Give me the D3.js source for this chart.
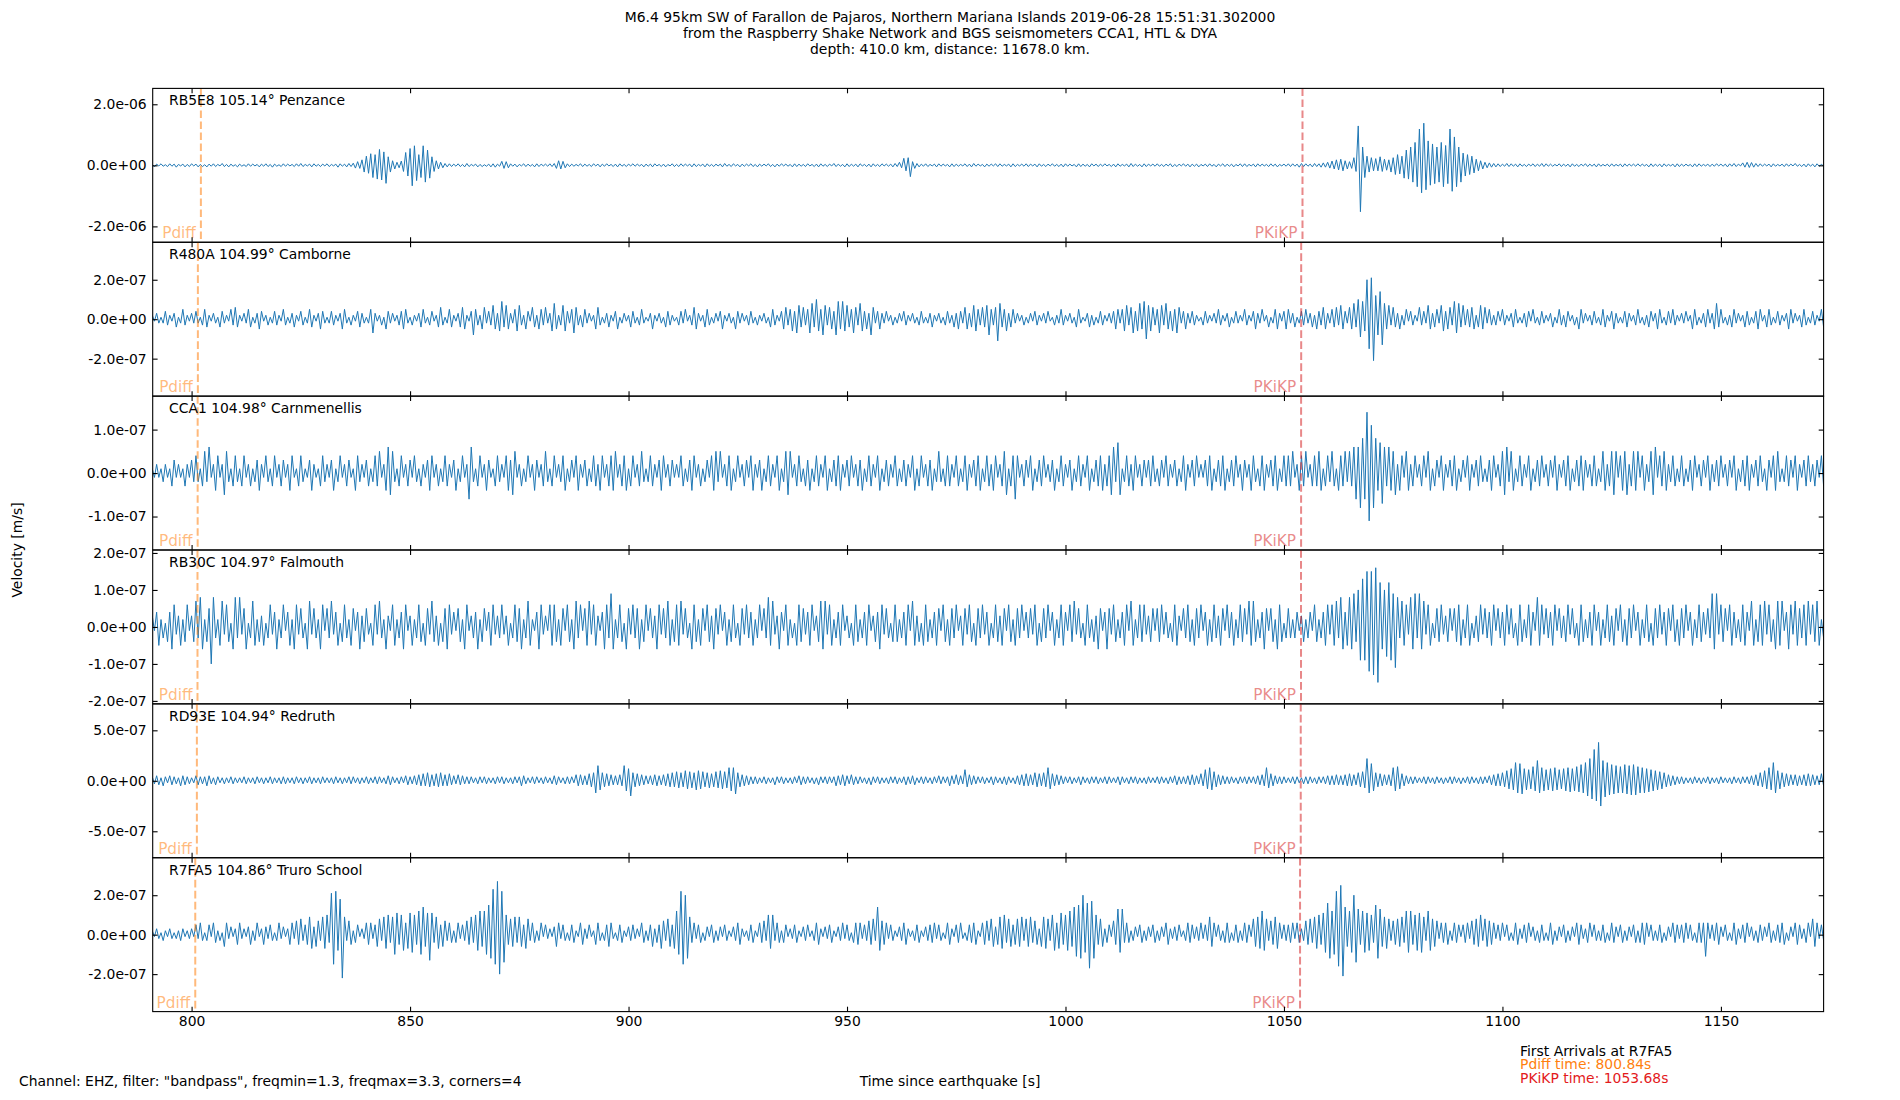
<!DOCTYPE html>
<html>
<head>
<meta charset="utf-8">
<title>Seismograms</title>
<script src="https://d3js.org/d3.v7.min.js"></script>
<style>
  body { margin: 0; background: #fff; }
  svg { font-family: "DejaVu Sans", sans-serif; }
</style>
</head>
<body>
<div id="chart-area"></div>
<script>
// station labels, from top panel to bottom
var stations = ["RB5E8 105.14° Penzance", "R480A 104.99° Camborne", "CCA1 104.98° Carnmenellis",
                "RB30C 104.97° Falmouth", "RD93E 104.94° Redruth", "R7FA5 104.86° Truro School"];

// predicted arrivals per station [s]
var pdiffTimes = [802.13, 801.44, 801.39, 801.35, 801.21, 800.84];
var pkikpTimes = [1054.24, 1053.94, 1053.92, 1053.90, 1053.84, 1053.68];

// y limits and tick values per panel [m/s]
var yLimits = [2.52e-6, 3.9e-7, 1.77e-7, 2.08e-7, 7.62e-7, 3.9e-7];
var yTicks = [
  [-2e-6, 0, 2e-6],
  [-2e-7, 0, 2e-7],
  [-1e-7, 0, 1e-7],
  [-2e-7, -1e-7, 0, 1e-7, 2e-7],
  [-5e-7, 0, 5e-7],
  [-2e-7, 0, 2e-7]
];
var xTicks = [800, 850, 900, 950, 1000, 1050, 1100, 1150];

// traces: one value every half second from t0, in units of 1e-8 m/s
// (amplitudes, one row = 10 s)
var t0 = 791;
var step = 0.5;
var unit = 1e-8;

var rb5e8 = [
3,-5,4,-2,5,-3,2,-4,5,-3,4,-6,3,-2,4,-5,3,-4,5,-2,
4,-5,3,-4,2,-5,4,-3,5,-4,3,-2,6,-4,3,-5,4,-3,2,-5,
4,-3,2,-4,5,-3,4,-2,3,-5,4,-3,5,-4,3,-6,4,-3,2,-4,
5,-3,4,-2,3,-4,5,-3,6,-4,3,-2,4,-5,5,-3,3,-4,4,-2,
5,-4,3,-2,4,-6,5,-3,4,-5,6,-4,7,-9,12,-10,18,-22,30,-26,
38,-40,35,-45,52,-48,44,-59,28,-22,15,-12,10,-8,14,-20,42,-35,55,-67,
64,-50,35,-40,64,-55,50,-42,28,-20,15,-12,10,-8,6,-5,5,-4,4,-3,
5,-4,3,-5,6,-4,3,-2,4,-5,3,-4,2,-3,4,-5,5,-6,4,-3,
13,-10,12,-8,5,-3,4,-5,3,-2,5,-4,4,-3,3,-5,5,-4,4,-2,
4,-3,5,-4,6,-10,15,-12,13,-8,5,-4,4,-3,3,-2,5,-4,4,-3,
3,-4,5,-2,4,-5,4,-3,5,-2,3,-4,4,-5,5,-3,3,-4,4,-2,
5,-3,4,-2,3,-5,4,-3,4,-5,5,-2,3,-4,4,-5,3,-2,5,-4,
3,-4,5,-3,4,-2,4,-5,5,-4,3,-2,4,-5,5,-3,3,-4,4,-2,
4,-5,6,-3,3,-4,5,-2,3,-5,4,-3,4,-2,5,-4,3,-5,4,-3,
4,-2,5,-4,3,-5,4,-3,5,-2,4,-3,3,-5,5,-4,4,-3,3,-4,
5,-2,3,-4,4,-5,5,-3,3,-4,4,-2,6,-4,4,-3,3,-5,5,-4,
4,-3,4,-5,5,-2,3,-4,4,-5,5,-3,3,-4,5,-2,4,-3,4,-5,
6,-4,10,-8,23,-18,25,-37,12,-10,6,-5,4,-3,5,-4,3,-2,4,-5,
5,-3,4,-2,3,-5,5,-4,4,-3,3,-2,5,-4,4,-5,6,-3,4,-2,
3,-5,4,-3,4,-2,5,-4,5,-3,3,-2,4,-5,5,-4,3,-2,4,-3,
5,-4,4,-2,4,-5,5,-3,3,-4,4,-2,5,-3,3,-4,4,-5,5,-3,
4,-2,3,-5,5,-4,4,-3,3,-5,5,-2,4,-4,4,-3,5,-2,3,-4,
4,-5,5,-3,3,-2,4,-5,6,-4,4,-3,3,-5,5,-4,4,-2,4,-3,
5,-3,3,-4,4,-2,5,-5,3,-4,4,-2,5,-3,4,-5,4,-3,4,-5,
3,-2,4,-4,5,-3,3,-5,4,-2,5,-4,4,-3,4,-5,3,-2,5,-4,
5,-4,3,-2,4,-5,5,-3,4,-2,3,-4,5,-3,4,-5,3,-2,4,-3,
5,-4,5,-3,4,-6,6,-4,5,-3,4,-5,6,-4,5,-6,8,-6,10,-9,
14,-12,18,-15,20,-18,15,-12,12,-10,25,-20,129,-152,60,-40,30,-22,25,-18,
22,-18,28,-20,20,-16,18,-22,25,-30,35,-28,30,-42,50,-45,60,-55,75,-70,
119,-90,138,-80,80,-65,70,-60,60,-55,75,-70,65,-60,119,-85,93,-70,60,-55,
40,-35,35,-30,30,-25,20,-18,15,-12,10,-8,8,-6,6,-5,5,-4,4,-3,
6,-4,5,-3,4,-5,5,-3,3,-4,4,-2,5,-4,4,-3,6,-4,5,-3,
4,-3,3,-2,5,-4,4,-3,4,-5,5,-3,3,-4,4,-2,5,-4,4,-3,
4,-5,5,-3,3,-2,4,-4,5,-3,3,-2,4,-5,5,-3,4,-2,4,-3,
5,-3,4,-2,3,-5,5,-4,4,-3,4,-5,5,-3,3,-2,4,-5,5,-4,
4,-3,4,-2,3,-5,5,-4,5,-3,3,-2,4,-4,4,-3,5,-2,4,-3,
4,-5,5,-3,6,-4,4,-2,8,-6,10,-7,9,-6,6,-4,5,-3,4,-2,
4,-5,5,-3,3,-2,4,-4,5,-3,4,-2,6,-3,3,-4,4,-5,5,-3,
4,-5,5,-3,3,-2];

var r480a = [
2,-1,3,-2,1,-2,4,-3,2,-1,3,-4,1,-2,5,-3,2,-1,3,-2,
4,-2,1,-3,5,-4,2,-1,3,-2,1,-4,4,-2,2,-1,5,-3,6,-4,
2,-1,3,-2,5,-4,1,-2,3,-5,4,-1,2,-3,1,-2,4,-3,2,-1,
5,-3,1,-2,3,-4,2,-1,4,-3,1,-2,5,-4,2,-1,3,-5,4,-2,
1,-2,4,-3,2,-1,3,-5,5,-2,1,-3,2,-1,4,-4,3,-2,1,-2,
5,-7,3,-1,2,-3,1,-5,4,-2,3,-1,2,-3,4,-5,5,-2,1,-3,
2,-1,3,-4,5,-2,1,-3,4,-1,2,-4,6,-3,1,-2,5,-4,2,-1,
3,-4,6,-5,2,-1,4,-8,5,-3,2,-5,6,-2,4,-3,7,-5,3,-6,
9,-4,7,-5,3,-2,5,-6,7,-3,2,-5,4,-1,6,-4,2,-5,5,-3,
6,-2,3,-6,8,-5,2,-3,7,-6,4,-2,5,-7,6,-3,2,-4,5,-2,
3,-1,2,-5,6,-3,1,-2,3,-4,2,-1,4,-5,1,-2,3,-1,2,-4,
4,-2,1,-3,5,-2,1,-1,3,-5,2,-1,3,-2,1,-4,4,-3,2,-1,
1,-3,4,-2,5,-1,2,-3,6,-5,3,-1,2,-4,5,-3,1,-2,3,-1,
4,-5,2,-1,3,-2,1,-5,4,-2,3,-1,2,-3,4,-2,1,-3,2,-1,
3,-2,1,-4,5,-3,2,-1,4,-5,6,-3,5,-6,4,-7,7,-4,6,-3,
5,-7,8,-4,10,-6,5,-8,7,-3,6,-5,4,-8,9,-5,9,-6,7,-4,
5,-7,6,-3,8,-6,4,-5,3,-8,6,-2,4,-5,3,-2,4,-1,2,-3,
1,-2,3,-1,4,-3,2,-1,3,-2,1,-3,4,-2,1,-2,3,-4,2,-1,
3,-2,1,-3,4,-2,2,-4,3,-5,4,-2,6,-5,3,-4,7,-6,5,-3,
6,-4,7,-8,5,-3,6,-11,8,-4,5,-6,3,-4,5,-2,3,-1,2,-3,
1,-2,3,-1,4,-3,2,-1,3,-2,4,-1,1,-3,2,-2,5,-3,2,-1,
3,-2,1,-4,5,-2,1,-1,3,-4,2,-3,1,-2,4,-3,2,-1,3,-2,
4,-5,5,-2,5,-6,7,-3,6,-7,4,-6,8,-5,9,-10,7,-6,6,-3,
5,-7,7,-3,8,-5,4,-6,5,-7,6,-2,4,-5,3,-2,4,-3,2,-1,
1,-3,4,-2,2,-1,3,-2,5,-3,2,-1,3,-4,1,-2,4,-2,2,-1,
5,-3,2,-1,4,-5,3,-2,5,-1,2,-4,1,-2,5,-5,3,-1,4,-5,
5,-2,3,-4,1,-2,4,-3,5,-2,3,-4,2,-5,4,-3,6,-5,3,-2,
5,-4,6,-3,7,-5,4,-2,6,-5,8,-4,10,-9,9,-6,20,-15,21,-21,
12,-8,14,-13,8,-5,7,-3,6,-4,3,-5,2,-3,5,-1,4,-3,2,-1,
6,-3,4,-2,7,-5,3,-4,5,-2,7,-6,4,-5,6,-3,9,-7,8,-4,
7,-3,5,-4,6,-5,2,-4,7,-5,6,-2,5,-3,2,-3,4,-1,5,-3,
2,-1,3,-4,5,-2,1,-2,3,-4,4,-1,5,-2,1,-3,4,-2,2,-1,
3,-4,1,-2,5,-3,2,-4,4,-1,2,-3,1,-5,5,-2,3,-1,2,-3,
4,-2,1,-3,5,-4,2,-1,4,-5,3,-2,1,-2,4,-4,3,-1,2,-3,
5,-2,1,-3,2,-4,4,-1,3,-5,5,-2,1,-3,4,-2,5,-3,2,-1,
3,-2,4,-1,2,-5,5,-3,1,-2,3,-4,5,-2,3,-5,8,-4,5,-2,
1,-3,2,-4,5,-2,3,-1,2,-4,4,-3,1,-2,4,-5,5,-1,2,-4,
5,-3,1,-2,4,-3,2,-1,3,-5,5,-2,3,-1,2,-4,5,-3,1,-2,
4,-3,2,-1,5,-4];

var cca1 = [
1,-1,2,-1,1,-2,2,-1,1,-3,3,-1,2,-1,1,-3,2,-1,3,-2,
4,-2,1,-3,5,-2,6,-1,2,-4,4,-1,2,-5,5,-2,1,-3,4,-2,
1,-3,4,-1,2,-3,1,-2,3,-4,2,-1,4,-2,1,-3,4,-1,2,-3,
3,-1,2,-4,4,-1,1,-3,4,-2,1,-1,3,-4,2,-1,1,-3,4,-2,
2,-1,3,-4,1,-2,4,-1,2,-3,3,-1,1,-4,4,-2,2,-1,3,-3,
1,-2,4,-3,5,-1,2,-4,6,-5,5,-2,1,-3,4,-1,2,-3,3,-1,
4,-2,1,-3,2,-1,3,-4,4,-1,2,-3,1,-2,4,-3,2,-1,3,-4,
1,-2,4,-1,2,-6,6,-2,1,-3,4,-1,2,-4,3,-1,1,-3,4,-2,
2,-1,4,-4,3,-5,5,-1,2,-3,1,-2,4,-1,2,-4,3,-1,2,-3,
5,-2,1,-3,4,-1,2,-2,4,-4,1,-2,3,-1,4,-4,2,-1,3,-3,
1,-2,4,-3,2,-4,4,-1,2,-3,4,-4,5,-1,2,-3,4,-4,1,-3,
4,-1,2,-3,5,-2,1,-2,4,-3,2,-1,3,-4,4,-1,2,-3,3,-1,
2,-1,4,-3,1,-2,3,-4,4,-1,2,-3,1,-2,3,-1,4,-4,5,-2,
5,-1,2,-3,4,-4,1,-2,4,-1,2,-3,3,-1,4,-4,2,-1,3,-4,
1,-2,4,-3,2,-1,4,-4,1,-2,5,-5,5,-1,2,-3,4,-2,1,-3,
3,-4,1,-2,4,-3,2,-1,4,-4,1,-2,3,-3,4,-4,2,-1,3,-3,
4,-1,2,-3,3,-4,1,-2,4,-3,2,-1,4,-4,1,-2,3,-3,2,-1,
4,-3,1,-2,3,-3,2,-1,4,-4,1,-3,4,-1,2,-3,3,-4,1,-2,
5,-2,1,-3,4,-3,2,-1,4,-3,1,-2,4,-4,2,-1,3,-3,4,-4,
1,-2,4,-3,2,-4,4,-1,2,-3,5,-5,1,-3,4,-6,4,-1,2,-3,
3,-1,4,-4,1,-2,3,-3,4,-1,2,-2,3,-4,1,-2,4,-3,2,-1,
3,-4,1,-2,4,-3,2,-1,4,-4,1,-2,3,-3,4,-4,2,-3,4,-5,
6,-2,7,-5,1,-2,4,-3,2,-4,4,-1,2,-3,3,-1,3,-3,4,-2,
1,-3,3,-1,4,-3,2,-1,3,-3,1,-2,4,-4,2,-1,3,-3,4,-1,
2,-1,3,-3,4,-4,1,-2,3,-3,4,-4,1,-2,3,-3,4,-1,2,-4,
3,-1,2,-4,4,-2,1,-3,4,-4,2,-1,3,-3,4,-4,1,-2,4,-3,
4,-3,5,-1,2,-4,4,-3,5,-1,2,-3,4,-3,5,-4,1,-3,4,-2,
5,-3,1,-4,4,-3,5,-2,5,-3,6,-6,6,-8,8,-6,14,-11,11,-8,
8,-4,7,-7,6,-3,6,-4,5,-5,2,-4,4,-1,5,-4,2,-3,4,-1,
2,-3,4,-1,5,-4,1,-3,3,-1,4,-4,2,-1,3,-3,4,-4,1,-2,
3,-1,4,-4,2,-1,3,-3,4,-2,1,-2,3,-4,4,-1,2,-3,5,-5,
6,-2,5,-4,1,-2,4,-3,2,-1,4,-4,1,-2,3,-3,4,-1,2,-3,
3,-1,4,-4,2,-1,3,-3,4,-4,1,-2,3,-3,4,-4,3,-1,2,-3,
4,-3,1,-2,5,-4,2,-3,5,-5,5,-1,4,-4,5,-5,2,-3,5,-4,
5,-1,4,-4,2,-2,5,-5,6,-1,4,-3,5,-4,2,-2,4,-3,1,-2,
4,-3,1,-2,3,-4,4,-1,2,-3,3,-1,4,-4,2,-2,3,-3,4,-1,
2,-3,3,-1,4,-4,1,-2,3,-3,4,-4,2,-1,3,-3,4,-2,1,-4,
3,-1,4,-4,5,-2,1,-2,4,-3,3,-1,4,-4,2,-1,3,-3,4,-2,
2,-3,3,-1,4,-3];

var rb30c = [
3,-1,4,-5,2,-3,1,-4,4,-6,6,-2,3,-5,2,-4,6,-1,3,-4,
7,-3,8,-6,2,-4,5,-10,8,-3,2,-5,7,-2,6,-4,1,-6,8,-3,
8,-2,5,-6,1,-3,7,-5,2,-4,3,-5,1,-3,6,-2,4,-6,2,-3,
6,-1,4,-5,2,-6,6,-2,5,-3,1,-6,7,-2,5,-3,2,-6,6,-1,
5,-3,7,-2,4,-5,1,-4,6,-3,2,-5,5,-1,4,-6,3,-4,5,-2,
1,-5,6,-2,7,-3,2,-6,3,-1,6,-5,2,-3,4,-6,6,-1,3,-5,
2,-3,6,-4,1,-5,5,-2,7,-4,3,-5,1,-4,5,-6,6,-2,4,-1,
5,-4,2,-6,6,-1,3,-3,4,-6,2,-4,5,-1,4,-5,6,-2,3,-3,
6,-2,3,-5,1,-3,6,-4,5,-6,2,-3,7,-5,2,-1,4,-6,6,-2,
3,-1,6,-5,6,-4,2,-5,5,-1,6,-4,2,-6,7,-3,6,-1,5,-5,
7,-2,6,-5,3,-1,4,-6,6,-3,9,-6,2,-3,6,-4,1,-6,5,-2,
6,-3,5,-6,2,-4,6,-1,5,-3,3,-6,6,-2,5,-3,7,-5,2,-4,
6,-5,7,-2,5,-3,1,-6,6,-4,2,-5,5,-1,6,-4,3,-6,5,-2,
6,-1,4,-5,2,-4,6,-3,1,-5,5,-2,6,-3,4,-5,2,-3,6,-1,
5,-3,8,-5,7,-2,3,-6,4,-1,6,-5,2,-3,1,-5,6,-4,5,-2,
4,-5,6,-1,3,-4,7,-6,7,-2,6,-5,2,-3,4,-5,6,-1,3,-3,
1,-5,6,-4,2,-3,4,-5,6,-1,3,-4,4,-6,6,-2,5,-3,1,-4,
6,-4,2,-3,4,-5,6,-1,7,-5,3,-4,1,-5,6,-4,2,-3,4,-5,
5,-1,6,-4,2,-5,5,-3,6,-1,3,-5,5,-2,6,-4,1,-5,5,-3,
6,-2,4,-5,1,-3,6,-4,3,-5,5,-1,6,-4,2,-5,5,-3,6,-1,
4,-3,5,-2,6,-5,1,-4,5,-3,6,-1,4,-5,2,-3,6,-5,4,-1,
6,-4,7,-2,5,-3,1,-5,6,-3,2,-4,3,-6,5,-1,4,-6,5,-2,
6,-4,2,-3,4,-5,6,-1,7,-5,2,-3,6,-4,6,-2,3,-4,5,-1,
5,-4,6,-2,4,-3,1,-4,6,-5,3,-1,5,-3,6,-4,2,-5,5,-3,
6,-1,4,-5,2,-4,6,-3,3,-5,5,-1,6,-3,4,-5,2,-3,6,-4,
5,-2,7,-5,7,-4,2,-3,4,-6,5,-1,5,-4,2,-6,6,-4,1,-3,
5,-3,2,-3,4,-1,3,-4,2,-3,4,-1,6,-4,2,-3,4,-5,6,-2,
6,-5,7,-3,8,-6,4,-5,8,-6,9,-4,10,-9,13,-9,15,-12,15,-13,
16,-15,12,-6,10,-8,12,-9,9,-11,8,-3,7,-5,6,-2,8,-6,9,-3,
9,-6,7,-2,6,-5,1,-3,5,-4,6,-2,3,-4,5,-1,5,-4,6,-5,
2,-3,6,-5,1,-3,3,-4,6,-2,5,-3,4,-5,6,-1,5,-3,4,-5,
6,-2,5,-3,1,-5,6,-4,2,-3,6,-5,4,-1,8,-5,6,-2,5,-3,
4,-5,6,-1,5,-3,3,-4,6,-2,5,-3,1,-5,6,-4,2,-3,4,-5,
6,-1,4,-5,2,-3,6,-4,3,-5,5,-1,6,-4,2,-5,5,-3,6,-1,
4,-5,2,-3,6,-4,1,-5,5,-3,6,-2,4,-5,5,-1,6,-4,2,-5,
5,-3,6,-1,4,-5,2,-3,6,-4,4,-2,5,-3,9,-6,9,-2,6,-4,
5,-1,6,-5,4,-3,2,-4,6,-5,4,-1,7,-5,2,-4,6,-5,7,-2,
6,-4,2,-6,7,-5,7,-1,4,-6,6,-2,7,-5,5,-3,6,-5,7,-2,
6,-4,7,-5,2,-3];

var rd93e = [
4,-3,5,-4,3,-5,4,-2,5,-4,4,-3,3,-5,5,-4,4,-3,3,-2,
5,-4,4,-3,4,-5,5,-3,3,-4,4,-2,3,-3,3,-2,4,-3,3,-2,
3,-2,4,-3,3,-2,3,-3,4,-2,3,-3,3,-2,4,-3,3,-2,3,-3,
4,-3,3,-2,3,-3,4,-2,3,-3,3,-2,4,-3,3,-2,3,-3,4,-2,
3,-2,3,-3,4,-2,3,-3,3,-2,4,-3,4,-2,3,-3,3,-2,4,-3,
3,-2,4,-3,4,-2,3,-3,5,-4,4,-2,3,-3,4,-2,5,-4,4,-3,
5,-4,6,-5,7,-5,8,-6,6,-5,7,-6,8,-5,6,-5,7,-4,5,-3,
6,-4,5,-3,4,-3,4,-2,3,-3,4,-2,4,-3,3,-2,3,-3,4,-2,
4,-3,3,-2,3,-3,4,-2,4,-5,5,-3,3,-2,4,-3,4,-2,3,-3,
4,-2,3,-3,5,-4,4,-2,3,-3,4,-3,4,-2,6,-5,6,-4,5,-4,
7,-6,8,-12,15,-9,8,-6,7,-5,6,-4,5,-4,6,-5,15,-10,12,-15,
8,-6,7,-5,6,-4,5,-3,5,-4,6,-5,5,-4,6,-5,7,-6,8,-6,
9,-7,8,-6,10,-8,9,-7,8,-9,10,-8,9,-6,8,-7,7,-6,9,-7,
10,-8,9,-7,13,-10,13,-13,8,-6,6,-5,5,-4,4,-3,4,-3,3,-2,
4,-3,3,-2,3,-4,4,-2,4,-3,3,-2,3,-3,4,-2,5,-4,4,-3,
4,-2,3,-3,3,-4,4,-2,4,-3,4,-2,4,-5,5,-4,6,-5,5,-3,
6,-4,4,-3,4,-2,3,-3,3,-4,4,-2,4,-3,3,-2,3,-3,4,-2,
4,-3,3,-2,4,-4,4,-3,5,-4,3,-2,4,-3,4,-2,3,-3,4,-2,
5,-3,4,-2,4,-5,5,-3,6,-4,5,-3,11,-6,6,-4,5,-3,4,-2,
4,-3,3,-2,4,-4,4,-2,3,-3,4,-4,4,-2,3,-3,5,-4,6,-5,
7,-5,6,-4,8,-6,7,-5,8,-6,13,-8,7,-5,6,-4,5,-3,4,-2,
4,-3,3,-2,4,-4,4,-2,3,-3,4,-2,4,-3,3,-2,4,-3,4,-2,
3,-2,4,-4,4,-2,3,-3,4,-2,4,-3,3,-2,3,-3,4,-2,3,-2,
4,-3,4,-2,3,-3,4,-2,5,-4,4,-3,4,-3,5,-4,6,-4,5,-3,
7,-5,11,-8,13,-9,9,-6,6,-4,5,-3,4,-3,4,-2,3,-3,4,-2,
4,-3,4,-2,4,-3,5,-4,6,-5,13,-7,7,-5,5,-3,4,-3,4,-2,
3,-2,4,-3,4,-2,3,-3,4,-3,4,-2,3,-3,4,-2,4,-3,5,-4,
5,-4,6,-4,5,-4,6,-5,7,-5,6,-4,8,-6,9,-7,22,-12,17,-10,
8,-6,7,-5,6,-4,6,-5,13,-10,14,-8,7,-5,5,-3,4,-3,4,-2,
3,-2,4,-3,4,-2,3,-3,4,-2,3,-3,3,-2,4,-3,4,-2,3,-3,
3,-2,4,-3,4,-2,3,-3,4,-3,4,-2,5,-4,6,-5,7,-5,8,-6,
10,-8,12,-9,18,-12,17,-13,12,-9,11,-8,14,-10,20,-12,13,-10,11,-9,
12,-10,13,-9,11,-8,12,-10,13,-11,12,-10,14,-11,16,-12,18,-15,22,-18,
31,-20,38,-25,20,-16,18,-14,16,-13,15,-12,14,-12,16,-13,15,-14,16,-14,
14,-12,13,-12,12,-11,11,-10,10,-9,9,-8,8,-6,6,-5,5,-4,4,-3,
4,-3,3,-2,3,-3,4,-2,3,-3,3,-2,4,-3,3,-2,3,-3,4,-2,
3,-2,3,-3,4,-2,3,-3,4,-2,4,-3,5,-4,6,-5,8,-6,10,-8,
13,-9,18,-12,10,-8,8,-6,7,-5,6,-4,6,-5,5,-4,6,-5,7,-5,
6,-4,5,-4,7,-5];

var r7fa5 = [
2,-1,3,-2,1,-3,2,-1,3,-2,1,-2,2,-3,3,-1,2,-2,3,-1,
5,-2,6,-3,1,-3,5,-1,6,-4,2,-3,1,-6,6,-2,4,-1,3,-5,
6,-2,3,-1,4,-5,2,-3,6,-1,3,-5,4,-2,5,-3,1,-3,6,-2,
4,-1,3,-5,6,-2,7,-5,8,-3,5,-5,9,-7,4,-6,7,-3,9,-7,
10,-4,21,-15,22,-8,18,-22,9,-3,7,-5,2,-4,5,-1,3,-2,6,-5,
6,-2,5,-6,8,-3,9,-7,10,-4,9,-10,11,-5,10,-8,6,-7,11,-9,
10,-5,12,-10,14,-6,11,-13,11,-4,9,-7,5,-6,7,-3,6,-4,2,-4,
6,-2,5,-3,7,-5,9,-4,10,-8,12,-6,12,-10,15,-12,23,-15,27,-20,
22,-14,10,-5,8,-6,9,-4,9,-6,5,-7,8,-3,6,-4,2,-3,6,-1,
5,-2,3,-1,4,-6,6,-2,5,-3,1,-3,5,-4,2,-1,6,-5,3,-2,
5,-1,2,-5,6,-3,1,-3,5,-6,6,-2,1,-3,5,-4,2,-1,4,-3,
5,-2,3,-1,6,-4,2,-3,5,-6,3,-4,5,-7,7,-3,8,-6,5,-7,
12,-10,22,-15,20,-12,9,-4,6,-2,5,-4,1,-3,4,-1,5,-4,2,-3,
4,-1,5,-3,2,-1,4,-3,6,-5,3,-1,2,-3,5,-4,2,-1,6,-4,
7,-3,10,-7,10,-3,6,-4,2,-4,5,-1,3,-2,5,-4,2,-1,4,-3,
5,-1,2,-3,6,-5,3,-1,4,-2,5,-4,2,-1,4,-3,6,-2,5,-3,
1,-4,6,-5,6,-2,5,-3,7,-5,8,-3,14,-8,7,-5,6,-2,5,-3,
2,-1,4,-3,6,-5,3,-1,2,-3,5,-4,2,-1,4,-3,5,-4,6,-2,
5,-3,1,-2,6,-5,3,-1,5,-4,6,-2,1,-3,5,-4,6,-5,2,-1,
6,-5,7,-3,8,-6,4,-5,9,-7,10,-4,8,-6,5,-5,8,-6,9,-3,
8,-6,9,-4,7,-5,3,-6,9,-7,8,-3,10,-8,6,-7,11,-5,10,-8,
12,-6,14,-11,15,-12,20,-9,16,-17,17,-12,10,-5,8,-6,3,-4,5,-1,
7,-5,13,-9,13,-4,6,-4,2,-3,4,-1,5,-4,2,-3,4,-1,5,-4,
2,-3,4,-1,6,-5,3,-2,4,-3,5,-1,2,-3,6,-4,5,-2,4,-3,
6,-2,5,-3,9,-6,6,-1,5,-3,2,-4,6,-4,1,-3,5,-4,2,-3,
6,-4,5,-1,8,-6,9,-7,12,-8,8,-3,7,-5,9,-7,6,-2,5,-3,
5,-4,6,-2,6,-4,3,-3,7,-5,8,-4,9,-7,10,-5,11,-9,16,-12,
12,-10,22,-16,25,-21,14,-6,12,-9,20,-14,13,-5,12,-9,11,-8,10,-4,
15,-12,13,-6,9,-7,8,-3,7,-5,8,-6,9,-4,12,-9,12,-5,10,-8,
11,-9,9,-3,12,-8,8,-6,7,-2,6,-4,6,-5,2,-3,6,-4,5,-1,
5,-4,6,-2,7,-5,8,-6,10,-3,8,-6,7,-5,6,-2,5,-3,6,-1,
5,-3,1,-3,6,-5,3,-2,5,-4,6,-1,4,-3,2,-4,5,-3,1,-3,
6,-5,2,-3,4,-1,5,-4,2,-3,4,-1,6,-5,5,-2,3,-4,6,-1,
5,-3,2,-3,5,-4,1,-3,6,-4,4,-1,5,-4,2,-3,4,-1,5,-4,
2,-4,6,-5,6,-1,5,-3,2,-3,5,-4,1,-3,4,-1,6,-4,5,-2,
5,-4,6,-2,5,-3,1,-4,6,-4,6,-11,6,-2,5,-3,6,-5,4,-1,
5,-3,1,-3,6,-5,3,-2,5,-4,6,-1,4,-3,2,-4,5,-3,4,-1,
6,-4,2,-3,5,-4,6,-5,1,-3,4,-1,6,-5,5,-2,3,-4,6,-1,
8,-6,6,-2,5,-3];

var traces = [rb5e8, r480a, cca1, rb30c, rd93e, r7fa5];

var titleLines = ["M6.4 95km SW of Farallon de Pajaros, Northern Mariana Islands 2019-06-28 15:51:31.302000",
                  "from the Raspberry Shake Network and BGS seismometers CCA1, HTL & DYA",
                  "depth: 410.0 km, distance: 11678.0 km."];

var margin = { left: 152.7, right: 76.4, top: 88.4, bottom: 88.4 };
var width = 1900 - margin.left - margin.right,
    height = 1100 - margin.top - margin.bottom;
var panelH = height / 6;
var fs = "13.9px";

var svg = d3.select("#chart-area")
    .append("svg")
        .attr("width", 1900)
        .attr("height", 1100);

var x = d3.scaleLinear()
    .domain([791.1, 1173.5])
    .range([0, width]);

// matplotlib style %.1e labels
function sci(v) {
    var s = v.toExponential(1).split("e");
    var e = +s[1];
    return s[0] + "e" + (e < 0 ? "-" : "+") + (Math.abs(e) < 10 ? "0" : "") + Math.abs(e);
}

function styleAxis(a) {
    a.select(".domain").remove();
    a.selectAll("line").attr("stroke-width", 1.1);
    a.selectAll("text").attr("font-size", fs).attr("font-family", "DejaVu Sans").attr("fill", "#000");
}

var line = d3.line()
    .x(function(d, j) { return x(t0 + j * step); });

traces.forEach(function(tr, i) {
    var g = svg.append("g")
        .attr("transform", "translate(" + margin.left + "," + (margin.top + i * panelH) + ")");

    var y = d3.scaleLinear()
        .domain([-yLimits[i], yLimits[i]])
        .range([panelH, 0]);

    g.append("clipPath").attr("id", "clip" + i)
      .append("rect")
        .attr("width", width)
        .attr("height", panelH);

    g.append("path")
        .datum(tr)
        .attr("clip-path", "url(#clip" + i + ")")
        .attr("fill", "none")
        .attr("stroke", "#1f77b4")
        .attr("stroke-width", 1)
        .attr("d", line.y(function(d) { return y(d * unit); }));

    // phase markers
    var phases = [
        { t: pdiffTimes[i], name: "Pdiff", color: "#ff7f0e" },
        { t: pkikpTimes[i], name: "PKiKP", color: "#d62728" }
    ];
    phases.forEach(function(p) {
        g.append("line")
            .attr("x1", x(p.t)).attr("x2", x(p.t))
            .attr("y1", 0).attr("y2", panelH)
            .attr("stroke", p.color)
            .attr("stroke-opacity", 0.55)
            .attr("stroke-width", 2)
            .attr("stroke-dasharray", "7.7,3.3");
        g.append("text")
            .attr("x", x(p.t) - 5)
            .attr("y", panelH - 4)
            .attr("text-anchor", "end")
            .attr("font-size", "15.3px")
            .attr("fill", p.color)
            .attr("fill-opacity", 0.55)
            .text(p.name);
    });

    g.append("text")
        .attr("x", 16.3)
        .attr("y", 17)
        .attr("font-size", fs)
        .text(stations[i]);

    // ticks point inward on every side
    g.append("g")
        .call(d3.axisLeft(y).tickValues(yTicks[i]).tickFormat(sci)
            .tickSizeInner(-4.9).tickSizeOuter(0).tickPadding(6))
        .call(styleAxis);
    g.append("g")
        .attr("transform", "translate(" + width + ",0)")
        .call(d3.axisRight(y).tickValues(yTicks[i]).tickFormat("")
            .tickSizeInner(-4.9).tickSizeOuter(0))
        .call(styleAxis);
    g.append("g")
        .call(d3.axisTop(x).tickValues(xTicks).tickFormat("")
            .tickSizeInner(-4.9).tickSizeOuter(0))
        .call(styleAxis);
    g.append("g")
        .attr("transform", "translate(0," + panelH + ")")
        .call(d3.axisBottom(x).tickValues(xTicks)
            .tickFormat(i === traces.length - 1 ? d3.format("d") : "")
            .tickSizeInner(-4.9).tickSizeOuter(0).tickPadding(5))
        .call(styleAxis);

    g.append("rect")
        .attr("width", width)
        .attr("height", panelH)
        .attr("fill", "none")
        .attr("stroke", "#000")
        .attr("stroke-width", 1.1);
});

// title
titleLines.forEach(function(t, k) {
    svg.append("text")
        .attr("x", 950)
        .attr("y", 22 + k * 16)
        .attr("text-anchor", "middle")
        .attr("font-size", fs)
        .text(t);
});

svg.append("text")
    .attr("transform", "translate(17," + (margin.top + height / 2) + ") rotate(-90)")
    .attr("text-anchor", "middle")
    .attr("dominant-baseline", "central")
    .attr("font-size", fs)
    .text("Velocity [m/s]");

svg.append("text")
    .attr("x", 950)
    .attr("y", 1085.5)
    .attr("text-anchor", "middle")
    .attr("font-size", fs)
    .text("Time since earthquake [s]");

svg.append("text")
    .attr("x", 19)
    .attr("y", 1085.5)
    .attr("font-size", fs)
    .text('Channel: EHZ, filter: "bandpass", freqmin=1.3, freqmax=3.3, corners=4');

var notes = [
    { text: "First Arrivals at R7FA5", color: "#000" },
    { text: "Pdiff time: " + pdiffTimes[5].toFixed(2) + "s", color: "#ff7f0e" },
    { text: "PKiKP time: " + pkikpTimes[5].toFixed(2) + "s", color: "#e31a1c" }
];
notes.forEach(function(n, k) {
    svg.append("text")
        .attr("x", 1520)
        .attr("y", 1055.5 + k * 13.5)
        .attr("font-size", fs)
        .attr("fill", n.color)
        .text(n.text);
});
</script>
</body>
</html>
